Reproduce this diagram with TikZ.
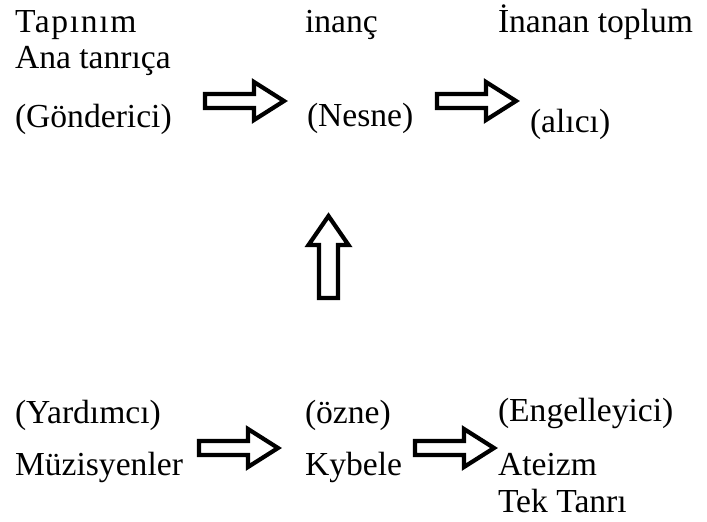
\documentclass[tikz,border=0pt]{standalone}
\usepackage{fontspec}
\setmainfont{Liberation Serif}
\tikzset{
  lbl/.style={anchor=base west, inner sep=0pt, outer sep=0pt, font=\fontsize{33.6}{40}\selectfont},
  blockarrow/.style={draw=black, line width=4.2pt, fill=white, miter limit=10},
  rblock/.pic={\draw[blockarrow] (0,-7) -- (49,-7) -- (49,-19) -- (79,0) -- (49,19) -- (49,7) -- (0,7) -- cycle;},
  ublock/.pic={\draw[blockarrow] (-9.5,0) -- (-9.5,-53) -- (-20,-53) -- (0,-82) -- (20,-53) -- (9.5,-53) -- (9.5,0) -- cycle;}
}
\begin{document}
\begin{tikzpicture}[x=1pt,y=-1pt]
\useasboundingbox (0,0) rectangle (707,522);
% top row
\node[lbl] (tapinim) at (15,32) {\addfontfeature{LetterSpace=5}Tapınım};
\node[lbl] (ana) at (15,68) {Ana tanrıça};
\node[lbl] (gonderici) at (15,127) {(Gönderici)};
\node[lbl] (inanc) at (305,32) {inanç};
\node[lbl] (nesne) at (307,126) {(Nesne)};
\node[lbl] (inanan) at (498,32) {İnanan toplum};
\node[lbl] (alici) at (530,132) {(alıcı)};
% bottom row
\node[lbl] (yardimci) at (15,423) {(Yardımcı)};
\node[lbl] (muzisyen) at (15,475) {Müzisyenler};
\node[lbl] (ozne) at (305,423) {(özne)};
\node[lbl] (kybele) at (305,475) {Kybele};
\node[lbl] (engel) at (498,421) {(Engelleyici)};
\node[lbl] (ateizm) at (498,475) {Ateizm};
\node[lbl] (tek) at (498,512) {Tek Tanrı};
% block arrows
\pic (A1) at (205,101) {rblock};
\pic (A2) at (437,101) {rblock};
\pic (A3) at (199,448) {rblock};
\pic (A4) at (415,448) {rblock};
\pic (A5) at (328.5,298) {ublock};
\end{tikzpicture}
\end{document}
